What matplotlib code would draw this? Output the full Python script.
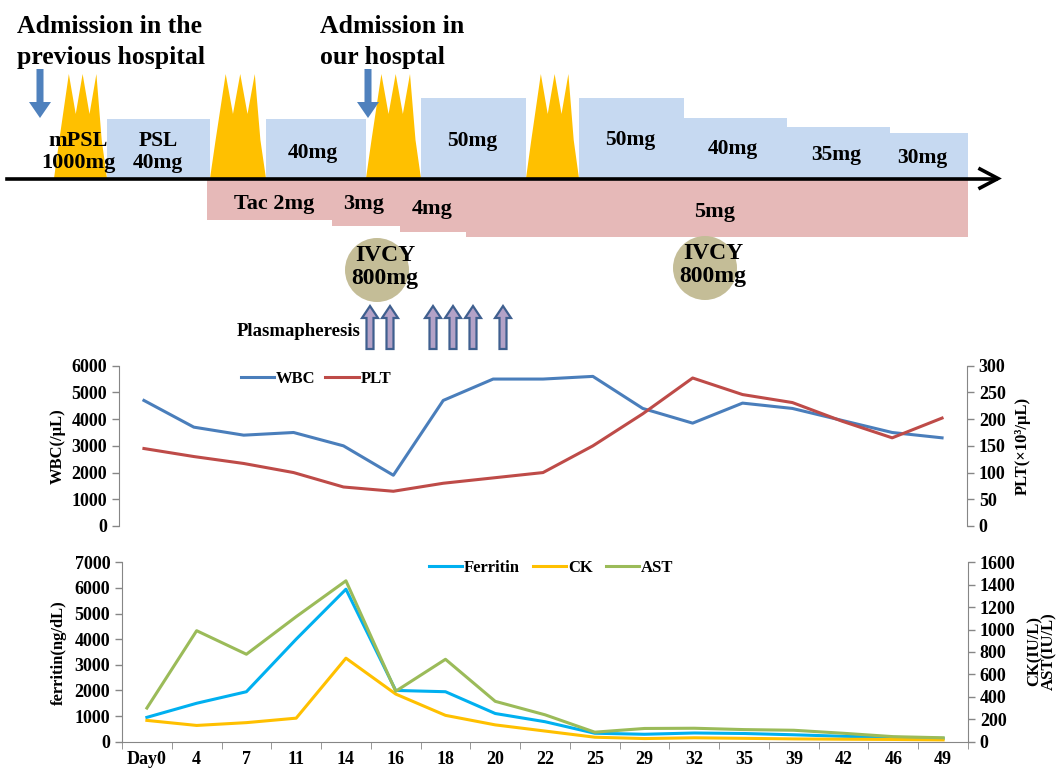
import matplotlib
matplotlib.use('Agg')
import matplotlib.pyplot as plt
from matplotlib.patches import Polygon, Rectangle, Circle, FancyArrow
from matplotlib.lines import Line2D

plt.rcParams['font.family'] = ['Liberation Serif', 'DejaVu Serif']
plt.rcParams['font.weight'] = 'bold'

# ---------------- data ----------------
days = ['Day0', '4', '7', '11', '14', '16', '18', '20', '22', '25', '29', '32',
        '35', '39', '42', '46', '49']
wbc = [4700, 3700, 3400, 3500, 3000, 1900, 4700, 5500, 5500, 5600, 4400, 3850,
       4600, 4400, 3950, 3500, 3300]
plt_count = [145, 130, 117, 100, 73, 65, 80, 90, 100, 150, 210, 277, 246, 231,
             196, 165, 202]
ferritin = [950, 1500, 1950, 4000, 5950, 2000, 1950, 1100, 780, 330, 290, 340,
            320, 270, 210, 170, 130]
ck = [190, 145, 170, 210, 745, 425, 235, 150, 95, 40, 28, 35, 30, 25, 22, 20, 16]
ast = [300, 990, 780, 1115, 1435, 450, 735, 360, 240, 85, 118, 120, 108, 102, 75,
       45, 35]

# schematic texts
admission_labels = ['Admission in the\nprevious hospital', 'Admission in\nour hosptal']
pulse_label = 'mPSL\n1000mg'
psl_doses = ['PSL\n40mg', '40mg', '50mg', '50mg', '40mg', '35mg', '30mg']
tac_doses = ['Tac 2mg', '3mg', '4mg', '5mg']
ivcy_label = 'IVCY\n800mg'
pe_label = 'Plasmapheresis'

# ---------------- layout (pixels) ----------------
W, H = 1058, 773
TL = 178.5
pulse_spans = [(54, 107), (210, 266), (366, 421), (526, 579)]
psl_boxes = [(107, 210, 119), (266, 366, 119), (421, 526, 98), (579, 684, 98),
             (684, 787, 118), (787, 890, 127), (890, 968, 133)]
psl_text_pos = [(158, 152), (313, 153), (472, 141), (630, 140), (733, 149),
                (836, 155), (922, 158)]
tac_boxes = [(207, 220), (332, 226), (400, 232), (466, 237)]
tac_text_pos = [(274, 204), (364, 204), (432, 209), (715, 212)]
ivcy_pos = [(377, 270), (705, 268)]
pe_x = [370, 390, 433, 453, 473, 503]
adm_arrow_x = [40, 368]

C_YEL = '#FFC000'
C_BOX = '#C6D9F1'
C_PINK = '#E6B9B8'
C_BLUE = '#4F81BD'
C_TAN = '#C4BD97'

fig = plt.figure(figsize=(W / 100, H / 100), dpi=100)
ax0 = fig.add_axes([0, 0, 1, 1])
ax0.set_xlim(0, W)
ax0.set_ylim(H, 0)
ax0.axis('off')

# pink tacrolimus band
right_end = 968
for (x0, yb) in tac_boxes:
    ax0.add_patch(Rectangle((x0, TL), right_end - x0, yb - TL, facecolor=C_PINK,
                            edgecolor='none', zorder=1))

# PSL boxes
for (x0, x1, yt) in psl_boxes:
    ax0.add_patch(Rectangle((x0, yt), x1 - x0, TL - yt, facecolor=C_BOX,
                            edgecolor='none', zorder=2))

# mPSL pulses
top, valley = 74, 114
for (x0, x1) in pulse_spans:
    w = x1 - x0
    p = [x0 + w * f for f in (0.28, 0.54, 0.80)]
    pts = [(x0, TL), (x0 + w * 0.10, 140), (p[0], top), ((p[0] + p[1]) / 2, valley),
           (p[1], top), ((p[1] + p[2]) / 2, valley), (p[2], top),
           (x1 - w * 0.10, 140), (x1, TL)]
    ax0.add_patch(Polygon(pts, closed=True, facecolor=C_YEL, edgecolor='none', zorder=3))

# timeline
ax0.add_line(Line2D([7, 996], [TL, TL], color='black', lw=2.6, zorder=5))
ax0.add_line(Line2D([980, 998, 980], [169, TL, 188], color='black', lw=2.6,
                    solid_joinstyle='miter', zorder=5))

# admission arrows
for xa in adm_arrow_x:
    ax0.add_patch(FancyArrow(xa, 69, 0, 49, width=7, head_width=22, head_length=16,
                             length_includes_head=True, facecolor=C_BLUE,
                             edgecolor='none', zorder=6))

# texts
ax0.text(17, 15, admission_labels[0], ha='left', va='top', fontsize=18.5,
         linespacing=1.42, zorder=7)
ax0.text(320, 15, admission_labels[1], ha='left', va='top', fontsize=18.5,
         linespacing=1.42, zorder=7)
ax0.text(78, 152, pulse_label, ha='center', va='center', fontsize=16,
         linespacing=1.1, zorder=7)
for lab, (tx, ty) in zip(psl_doses, psl_text_pos):
    ax0.text(tx, ty, lab, ha='center', va='center', fontsize=15.5, linespacing=1.1,
             zorder=7)
for lab, (tx, ty) in zip(tac_doses, tac_text_pos):
    ax0.text(tx, ty, lab, ha='center', va='center', fontsize=16, zorder=7)

# IVCY
for (cx, cy) in ivcy_pos:
    ax0.add_patch(Circle((cx, cy), 32, facecolor=C_TAN, edgecolor='none', zorder=4))
    ax0.text(cx + 8, cy - 3, ivcy_label, ha='center', va='center', fontsize=17,
             linespacing=1.1, zorder=7)

# plasmapheresis
ax0.text(361, 332, pe_label, ha='right', va='center', fontsize=13.5, zorder=7)
for xp in pe_x:
    ax0.add_patch(FancyArrow(xp, 349, 0, -43, width=7, head_width=16, head_length=12,
                             length_includes_head=True, facecolor='#B3A2C7',
                             edgecolor='#3F5F8F', lw=1.6, zorder=6))

# ---------------- charts ----------------
GRAY = '#868686'
TICKFS = 13
x = list(range(len(days)))

def style_axis(ax):
    for s in ax.spines.values():
        s.set_visible(False)
    ax.tick_params(axis='both', colors=GRAY, labelcolor='black', labelsize=TICKFS,
                   length=5, width=1, direction='out')

# WBC / PLT
ax1 = fig.add_axes([119 / W, 1 - 526 / H, (967 - 119) / W, (526 - 365.7) / H])
ax1r = ax1.twinx()
style_axis(ax1)
style_axis(ax1r)
l1, = ax1.plot(x, wbc, color='#4A7EBB', lw=2.2, label='WBC')
l2, = ax1r.plot(x, plt_count, color='#BE4B48', lw=2.2, label='PLT')
ax1.set_xlim(-0.5, len(days) - 0.5)
ax1.set_ylim(0, 6000)
ax1.set_yticks(range(0, 6001, 1000))
ax1r.set_ylim(0, 300)
ax1r.set_yticks(range(0, 301, 50))
ax1.set_xticks([])
ax1.spines['left'].set_visible(True)
ax1.spines['left'].set_color(GRAY)
ax1r.spines['right'].set_visible(True)
ax1r.spines['right'].set_color(GRAY)
ax1.patch.set_alpha(0)
fig.legend(handles=[l1, l2], loc='center', bbox_to_anchor=(316 / W, 1 - 379 / H),
           ncol=2, frameon=False, handlelength=2.0, handletextpad=0.1,
           columnspacing=0.6, prop={'size': 12, 'weight': 'bold'})
ax0.text(58, 446, 'WBC(/μL)', rotation=90, ha='center', va='center', fontsize=12)
ax0.text(1023, 446, 'PLT(×10³/μL)', rotation=90, ha='center', va='center', fontsize=12)

# Ferritin / CK / AST
ax2 = fig.add_axes([122 / W, 1 - 741.7 / H, 846 / W, 179.4 / H])
ax2r = ax2.twinx()
style_axis(ax2)
style_axis(ax2r)
f1, = ax2.plot(x, ferritin, color='#00B0F0', lw=2.2, label='Ferritin')
f2, = ax2r.plot(x, ck, color='#FFC000', lw=2.2, label='CK')
f3, = ax2r.plot(x, ast, color='#9BBB59', lw=2.2, label='AST')
ax2.set_xlim(-0.5, len(days) - 0.5)
ax2.set_ylim(0, 7000)
ax2.set_yticks(range(0, 7001, 1000))
ax2r.set_ylim(0, 1600)
ax2r.set_yticks(range(0, 1601, 200))
ax2.set_xticks(x)
ax2.set_xticklabels(days)
ax2.tick_params(axis='x', length=0, pad=7)
ax2.set_xticks([i - 0.5 for i in range(len(days) + 1)], minor=True)
ax2.tick_params(axis='x', which='minor', length=5, color=GRAY, direction='out')
for s in ('left', 'bottom'):
    ax2.spines[s].set_visible(True)
    ax2.spines[s].set_color(GRAY)
ax2r.spines['right'].set_visible(True)
ax2r.spines['right'].set_color(GRAY)
fig.legend(handles=[f1, f2, f3], loc='center', bbox_to_anchor=(551 / W, 1 - 568 / H),
           ncol=3, frameon=False, handlelength=2.0, handletextpad=0.1,
           columnspacing=0.8, prop={'size': 12, 'weight': 'bold'})
ax0.text(59, 653, 'ferritin(ng/dL)', rotation=90, ha='center', va='center', fontsize=12)
ax0.text(1042, 651, 'CK(IU/L)\nAST(IU/L)', rotation=90, ha='center', va='center',
         fontsize=12, linespacing=0.95, multialignment='center')

fig.savefig('out.png', dpi=100)
